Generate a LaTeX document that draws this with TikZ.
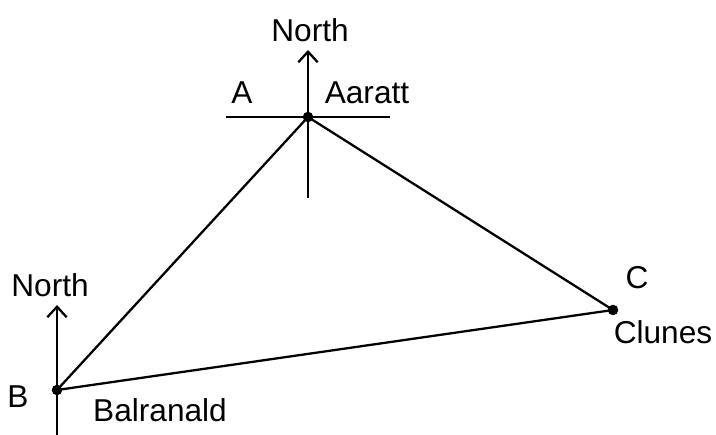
\documentclass[tikz,border=0pt]{standalone}
\usepackage{fontspec}
\setmainfont{Liberation Sans}
\usetikzlibrary{arrows.meta}

\begin{document}
\begin{tikzpicture}[x=0.02cm,y=-0.02cm,>={Straight Barb[length=6pt,width=11pt]},line width=1.3pt,
  font=\fontsize{18}{20}\selectfont,
  dot/.style={circle,fill,inner sep=0pt,minimum size=6pt}]
\useasboundingbox(0,0)rectangle(716,435);
% stations
\node[dot](A)at(308,117){};
\node[dot](B)at(57,390){};
\node[dot](C)at(613,310){};
% north lines
\coordinate(An)at(308,50);
\coordinate(As)at(308,198);
\coordinate(Aw)at(226,117);
\coordinate(Ae)at(390,117);
\coordinate(Bn)at(57,305);
\coordinate(Bs)at(57,435);
\draw[->](A.center)--(An);
\draw(A.center)--(As)
(Aw)--(Ae);
\draw[->](B.center)--(Bn);
\draw(B.center)--(Bs);
% triangle
\draw(A.center)--(B.center)--(C.center)--cycle;
% labels
\node(northA)at(310,30){North};
\node(northB)at(50,285){North};
\node(labA)at(242,93){A};
\node(nameA)at(367,93){Aaratt};
\node(labB)at(18,397){B};
\node(nameB)at(160,410){Balranald};
\node(labC)at(637,278){C};
\node(nameC)at(663,332){Clunes};
\end{tikzpicture}
\end{document}
